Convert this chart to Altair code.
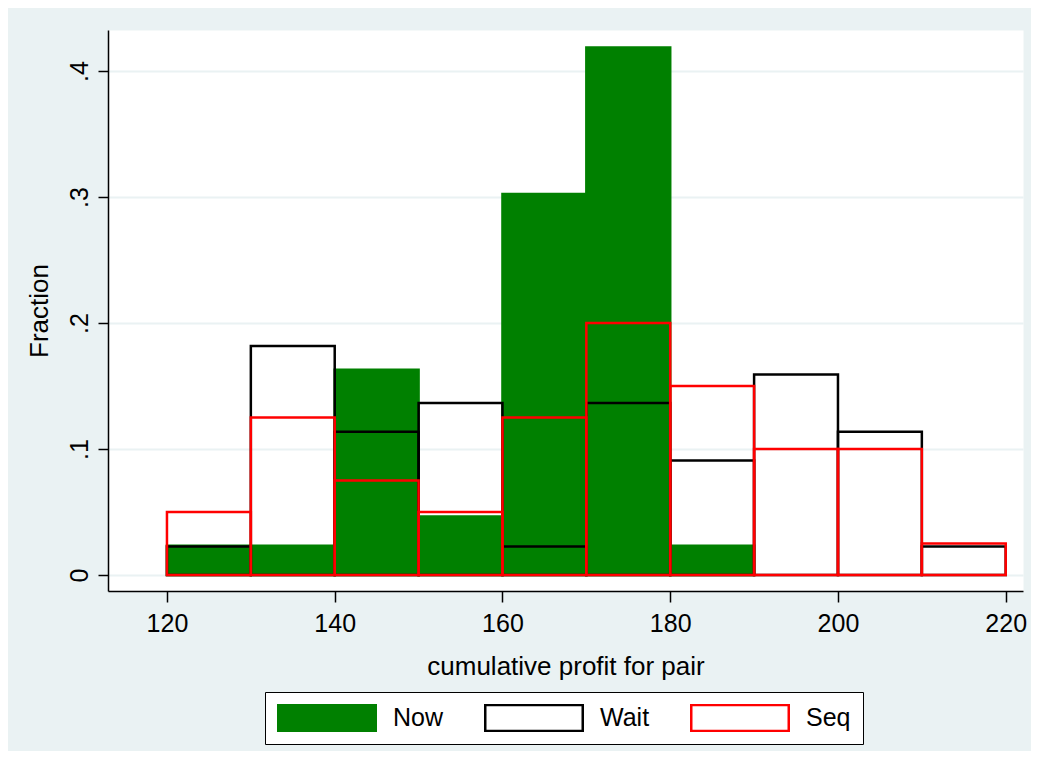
import altair as alt
import pandas as pd

# ---- data ----
groups = ["Now", "Wait", "Seq"]
bin_starts = [120, 130, 140, 150, 160, 170, 180, 190, 200, 210]
bin_width = 10
now_frac = [0.0233, 0.0233, 0.1628, 0.0465, 0.3023, 0.4186, 0.0233, 0.0, 0.0, 0.0]
wait_frac = [0.0227, 0.1818, 0.1136, 0.1364, 0.0227, 0.1364, 0.0909, 0.1591, 0.1136, 0.0227]
seq_frac = [0.05, 0.125, 0.075, 0.05, 0.125, 0.2, 0.15, 0.1, 0.1, 0.025]

x_ticks = [120, 140, 160, 180, 200, 220]
y_ticks = [0, 0.1, 0.2, 0.3, 0.4]
y_tick_labels = ["0", ".1", ".2", ".3", ".4"]

rows = []
for g, fr in zip(groups, [now_frac, wait_frac, seq_frac]):
    for s, f in zip(bin_starts, fr):
        if f > 0:
            rows.append({"group": g, "start": s, "end": s + bin_width, "frac": f})
df = pd.DataFrame(rows)

FONT = "Liberation Sans"
BG = "#eaf2f3"

label_expr = "[" + ",".join("'%s'" % t for t in y_tick_labels) + "][round(datum.value*10)]"

legend = alt.Legend(
    orient="none", legendX=157, legendY=662, direction="horizontal", columns=3,
    symbolType="M-1,-0.266L1,-0.266L1,0.266L-1,0.266Z", symbolSize=9506, clipHeight=28,
    symbolStrokeWidth=2.5, symbolOpacity=1,
    labelFont=FONT, labelFontSize=25, labelColor="black", labelOffset=16, labelLimit=300,
    columnPadding=40, padding=12, strokeColor="black", fillColor="white",
)

fill_scale = alt.Scale(domain=groups, range=["#008000", "transparent", "transparent"])
stroke_scale = alt.Scale(domain=groups, range=["#008000", "#000000", "#ff0000"])

chart = alt.Chart(df).mark_rect(strokeWidth=2.5).encode(
    x=alt.X("start:Q",
            scale=alt.Scale(domain=[112.97, 222.06], nice=False, zero=False),
            axis=alt.Axis(values=x_ticks, title="cumulative profit for pair", grid=False,
                          labelFontSize=25, labelPadding=9, tickSize=11,
                          titleFontSize=26, titleBaseline="alphabetic", titleY=83)),
    x2="end:Q",
    y=alt.Y("frac:Q",
            scale=alt.Scale(domain=[-0.0127, 0.4325], nice=False, zero=False),
            axis=alt.Axis(values=y_ticks, title="Fraction", labelExpr=label_expr,
                          labelAngle=270, labelAlign="center", labelBaseline="alphabetic",
                          labelFontSize=25, labelPadding=11, tickSize=10,
                          grid=True, gridColor=BG, gridWidth=2,
                          titleFontSize=26, titleBaseline="alphabetic", titleX=-61)),
    y2=alt.datum(0),
    fill=alt.Fill("group:N", scale=fill_scale, legend=legend, title=None),
    stroke=alt.Stroke("group:N", scale=stroke_scale, legend=legend, title=None),
).properties(
    width=915, height=561,
    autosize=alt.AutoSizeParams(type="none"),
    padding={"left": 100, "top": 22, "right": 8, "bottom": 160},
    background=BG,
).configure_view(
    fill="white", stroke="transparent"
).configure_axis(
    labelFont=FONT, titleFont=FONT, labelColor="black", titleColor="black",
    titleFontWeight="normal", domainColor="black", domainWidth=1.5,
    tickColor="black", tickWidth=1.5,
)

chart.save("out.html", embed_options={"renderer": "svg", "actions": False})
